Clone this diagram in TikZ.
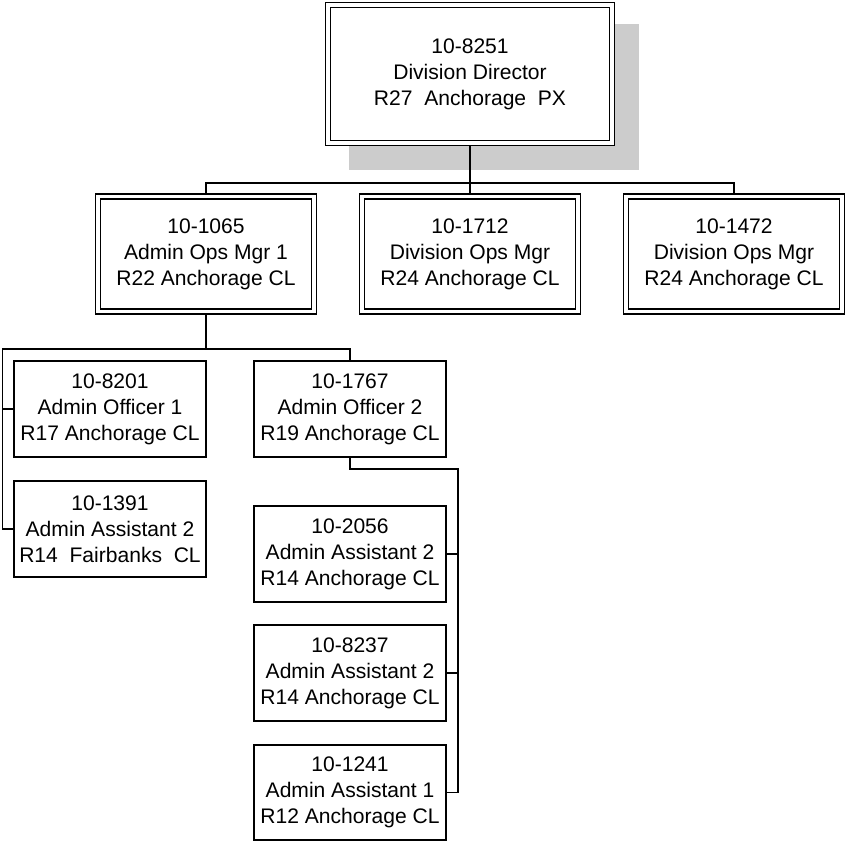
\documentclass[tikz,border=0pt]{standalone}
\usepackage{fontspec}
\setmainfont{Liberation Sans}
\usetikzlibrary{backgrounds}
\tikzset{chart/.style={font=\fontsize{15.8}{19.5}\selectfont,align=center,inner sep=0pt},
    dbox/.style={chart,draw,line width=0.9pt,double,double distance=2.85pt,minimum width=162pt,minimum height=86.25pt},
    sbox/.style={chart,draw,line width=0.9pt,minimum width=144pt,minimum height=72pt},
    trunk/.style={line width=1.5pt},
    branch/.style={line width=1pt}}

\begin{document}
\begin{tikzpicture}[x=0.75pt,y=0.75pt,yscale=-1,xscale=1]
\path[use as bounding box] (0,0) rectangle (846,841);

% Text Node
\node[dbox,fill=white,minimum width=213pt,minimum height=104pt] (dir) at (470,74) {10-8251\\Division Director\\R27\ \ Anchorage\ \ PX};
% Text Node
\node[dbox] (ops1) at (206,254) {10-1065\\Admin Ops Mgr 1\\R22 Anchorage CL};
% Text Node
\node[dbox] (ops2) at (470,254) {10-1712\\Division Ops Mgr\\R24 Anchorage CL};
% Text Node
\node[dbox] (ops3) at (734,254) {10-1472\\Division Ops Mgr\\R24 Anchorage CL};
% Text Node
\node[sbox] (off1) at (110,409) {10-8201\\Admin Officer 1\\R17 Anchorage CL};
% Text Node
\node[sbox] (off2) at (350,409) {10-1767\\Admin Officer 2\\R19 Anchorage CL};
% Text Node
\node[sbox] (asst1) at (110,529) {10-1391\\Admin Assistant 2\\R14\ \ Fairbanks\ \ CL};
% Text Node
\node[sbox] (asst2) at (350,554) {10-2056\\Admin Assistant 2\\R14 Anchorage CL};
% Text Node
\node[sbox] (asst3) at (350,673) {10-8237\\Admin Assistant 2\\R14 Anchorage CL};
% Text Node
\node[sbox,minimum height=71.25pt] (asst4) at (350,792.5) {10-1241\\Admin Assistant 1\\R12 Anchorage CL};

\coordinate (bus1) at (470,183);
\coordinate (bus2) at (206,349);
\coordinate (rail1) at (2.5,349);
\coordinate (rail2) at (458,469);

\begin{scope}[on background layer]
%Shape: Shadow
\fill[gray!40] (349,24) rectangle (639,170);
%Straight Lines
\draw[trunk] (dir.south) -- (bus1);
\draw[branch] (ops1.north) |- (bus1) -| (ops3.north);
\draw[branch] (bus1) -- (ops2.north);
\draw[trunk] (ops1.south) -- (bus2);
\draw[branch] (asst1.west) -| (rail1) -| (off2.north);
\draw[branch] (off1.west) -- (off1.west -| rail1);
\draw[branch] (off2.south) |- (rail2) |- (asst4.east);
\draw[branch] (asst2.east) -- (asst2.east -| rail2);
\draw[branch] (asst3.east) -- (asst3.east -| rail2);
\end{scope}

\end{tikzpicture}
\end{document}
